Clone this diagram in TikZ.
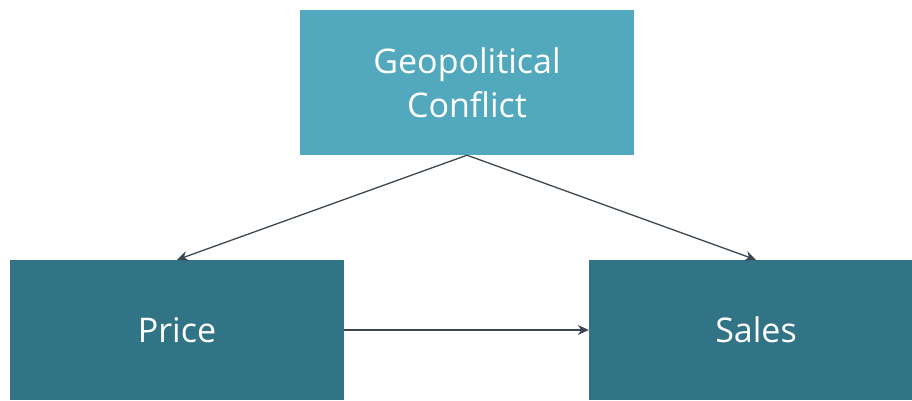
\documentclass[tikz,border=0pt]{standalone}
\usepackage{fontspec}
\setmainfont{Open Sans}
\usepackage{tikz}
\usetikzlibrary{arrows.meta}
\usepackage{xcolor}
\definecolor{causetop}{HTML}{52A9BE}
\definecolor{causebox}{HTML}{307486}
\definecolor{causeline}{HTML}{3C4850}

\tikzset{
  factor/.style={rectangle, inner sep=0pt, text=white, align=center,
    minimum width=334pt, font=\fontsize{34}{44}\selectfont},
  link/.style={causeline, line width=1.3pt, -{Stealth[length=11pt,width=10pt]}}
}

\begin{document}
\begin{tikzpicture}[x=1pt,y=1pt]
        \useasboundingbox (0,0) rectangle (912,400);
        \node[factor, fill=causetop, minimum height=145pt] (conflict) at (467,317.5) {Geopolitical\\Conflict};
        \node[factor, fill=causebox, minimum height=140pt] (price) at (177,70) {Price};
        \node[factor, fill=causebox, minimum height=140pt] (sales) at (756,70) {Sales};
        \draw[link] (conflict.south) -- (price.north);
        \draw[link] (conflict.south) -- (sales.north);
        \draw[link] (price.east) -- (sales.west);
      \end{tikzpicture}
\end{document}
